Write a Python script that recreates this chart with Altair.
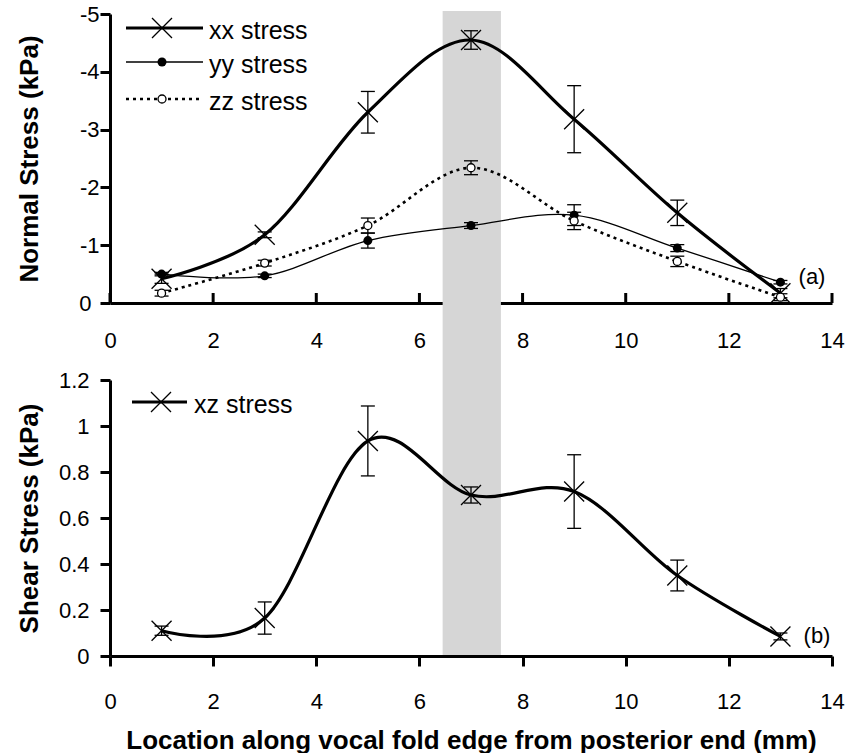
import altair as alt
import pandas as pd

# Measurement locations along the fold edge (mm)
LOCATION = [1, 3, 5, 7, 9, 11, 13]

# Normal stresses (kPa) with their error half-widths
XX = [-0.42, -1.18, -3.30, -4.55, -3.18, -1.56, -0.17]
XX_ERR = [0.08, 0.05, 0.36, 0.16, 0.58, 0.22, 0.08]
YY = [-0.50, -0.47, -1.08, -1.34, -1.52, -0.95, -0.36]
YY_ERR = [0.03, 0.03, 0.13, 0.05, 0.18, 0.06, 0.03]
ZZ = [-0.17, -0.69, -1.34, -2.34, -1.42, -0.72, -0.10]
ZZ_ERR = [0.05, 0.05, 0.13, 0.12, 0.15, 0.09, 0.06]

# Shear stress (kPa)
XZ = [0.11, 0.165, 0.935, 0.70, 0.715, 0.35, 0.085]
XZ_ERR = [0.02, 0.07, 0.152, 0.035, 0.16, 0.067, 0.015]

# Highlighted region (mm)
BAND_START = [6.45]
BAND_END = [7.58]

X_TICKS = [0, 2, 4, 6, 8, 10, 12, 14]
NORMAL_TICKS = [0, -1, -2, -3, -4, -5]
SHEAR_TICKS = [0, 0.2, 0.4, 0.6, 0.8, 1.0, 1.2]

W, TOP_H, BOT_H, GAP = 722, 289, 276, 77
FONT = "Liberation Sans"
X_SHAPE = "M-1,-1L1,1M-1,1L1,-1"
THIN = 1.3

xscale = alt.Scale(domain=[0, 14], nice=False, zero=False, padding=0)
normal_scale = alt.Scale(domain=[0, -5], nice=False, zero=False, padding=0)
shear_scale = alt.Scale(domain=[0, 1.2], nice=False, zero=False, padding=0)

top_x_axis = alt.Axis(values=X_TICKS, ticks=False, labelPadding=27, labelFlush=False,
                      title=None)
bot_x_axis = alt.Axis(values=X_TICKS, tickSize=10, labelPadding=25, labelFlush=False,
                      title="Location along vocal fold edge from posterior end (mm)",
                      titleX=W / 2, titleY=84, titleBaseline="middle",
                      titleFontSize=26)
normal_axis = alt.Axis(values=NORMAL_TICKS, labelExpr="toString(datum.value)",
                       tickSize=10, labelFlush=False,
                       labelPadding=alt.condition("datum.value == 0", alt.value(9), alt.value(1)),
                       title="Normal Stress (kPa)", titleX=-81, titleY=TOP_H / 2,
                       titleBaseline="middle", titleAlign="center")
shear_axis = alt.Axis(values=SHEAR_TICKS, format="~g", tickSize=10, labelPadding=11,
                      labelFlush=False,
                      title="Shear Stress (kPa)", titleX=-81, titleY=BOT_H / 2,
                      titleBaseline="middle", titleAlign="center")


def frame(vals, errs):
    return pd.DataFrame({
        "x": LOCATION,
        "v": vals,
        "lo": [v - e for v, e in zip(vals, errs)],
        "hi": [v + e for v, e in zip(vals, errs)],
    })


def caps(df):
    return pd.concat([
        pd.DataFrame({"x": df["x"], "end": df["lo"]}),
        pd.DataFrame({"x": df["x"], "end": df["hi"]}),
    ], ignore_index=True)


def series(df, xaxis, yscale, yaxis, line_width, marker, dash=None):
    X = alt.X("x:Q", scale=xscale, axis=xaxis)
    line_kw = dict(color="black", strokeWidth=line_width, interpolate="cardinal")
    if dash:
        line_kw["strokeDash"] = dash
    line = alt.Chart(df).mark_line(**line_kw).encode(
        x=X, y=alt.Y("v:Q", scale=yscale, axis=yaxis))
    whisker = alt.Chart(df).mark_rule(color="black", strokeWidth=THIN).encode(
        x=X, y=alt.Y("lo:Q", scale=yscale, axis=yaxis), y2="hi:Q")
    cap = alt.Chart(caps(df)).mark_rule(
        color="black", strokeWidth=THIN, xOffset=-7, x2Offset=7).encode(
        x=X, x2="x:Q", y=alt.Y("end:Q", scale=yscale, axis=yaxis))
    point = alt.Chart(df).mark_point(**marker).encode(
        x=X, y=alt.Y("v:Q", scale=yscale, axis=yaxis))
    return [line, whisker, cap, point]


MARK_X = dict(shape=X_SHAPE, size=400, filled=False, stroke="black",
              strokeWidth=THIN, opacity=1)
MARK_DOT = dict(shape="circle", size=81, filled=True, color="black", opacity=1)
MARK_RING = dict(shape="circle", size=64, filled=True, fill="white",
                 stroke="black", strokeWidth=THIN, opacity=1)


def legend_entry(label, y, x0, x1, xm, xt, line_width, marker, dash=None):
    one = pd.DataFrame({"label": [label]})
    rule_kw = dict(color="black", strokeWidth=line_width)
    if dash:
        rule_kw["strokeDash"] = dash
    seg = alt.Chart(one).mark_rule(**rule_kw).encode(
        x=alt.value(x0), x2=alt.value(x1), y=alt.value(y))
    sym = alt.Chart(one).mark_point(**marker).encode(x=alt.value(xm), y=alt.value(y))
    txt = alt.Chart(one).mark_text(
        align="left", baseline="alphabetic", font=FONT, fontSize=25, color="black"
    ).encode(x=alt.value(xt), y=alt.value(y + 11), text="label:N")
    return [seg, sym, txt]


def corner_label(text, x, y):
    return alt.Chart(pd.DataFrame({"t": [text]})).mark_text(
        align="center", baseline="alphabetic", font=FONT, fontSize=22, color="black"
    ).encode(x=alt.value(x), y=alt.value(y), text="t:N")


band_df = pd.DataFrame({"start": BAND_START, "end": BAND_END})
tick_df = pd.DataFrame({"t": X_TICKS})

# ---- panel (a): normal stresses ----
band = alt.Chart(band_df).mark_rect(color="#d6d6d6").encode(
    x=alt.X("start:Q", scale=xscale, axis=top_x_axis), x2="end:Q",
    y=alt.value(-3), y2=alt.value(TOP_H + GAP + BOT_H))
inner_ticks = alt.Chart(tick_df).mark_rule(color="black", strokeWidth=3).encode(
    x=alt.X("t:Q", scale=xscale, axis=top_x_axis),
    y=alt.value(TOP_H - 10), y2=alt.value(TOP_H))

xx_df, yy_df, zz_df = frame(XX, XX_ERR), frame(YY, YY_ERR), frame(ZZ, ZZ_ERR)
top_layers = [band, inner_ticks]
top_layers += series(xx_df, top_x_axis, normal_scale, normal_axis, 3.2, MARK_X)
top_layers += series(yy_df, top_x_axis, normal_scale, normal_axis, THIN, MARK_DOT)
top_layers += series(zz_df, top_x_axis, normal_scale, normal_axis, 2.6, MARK_RING, dash=[3, 4])
top_layers += legend_entry("xx stress", 14, 16, 93, 52, 99, 3.2, MARK_X)
top_layers += legend_entry("yy stress", 48, 16, 93, 52, 99, THIN, MARK_DOT)
top_layers += legend_entry("zz stress", 85, 16, 93, 52, 99, 2.6, MARK_RING, dash=[3, 4])
top_layers.append(corner_label("(a)", 702, 270))
top = alt.layer(*top_layers).properties(width=W, height=TOP_H)

# ---- panel (b): shear stress ----
xz_df = frame(XZ, XZ_ERR)
bot_layers = series(xz_df, bot_x_axis, shear_scale, shear_axis, 3.2, MARK_X)
bot_layers += legend_entry("xz stress", 22, 22, 77, 51, 84, 3.2, MARK_X)
bot_layers.append(corner_label("(b)", 707, 263))
bottom = alt.layer(*bot_layers).properties(width=W, height=BOT_H)

chart = alt.vconcat(top, bottom, spacing=GAP, bounds="flush").properties(
    padding={"left": 15, "top": 3, "right": 0, "bottom": 0}
).configure_view(stroke=None).configure_axis(
    grid=False, domainColor="black", domainWidth=3, tickColor="black", tickWidth=3,
    labelFont=FONT, labelFontSize=22, labelColor="black",
    titleFont=FONT, titleFontSize=26, titleFontWeight="bold", titleColor="black",
)

chart.save("out.html", embed_options={"renderer": "svg", "actions": False})
